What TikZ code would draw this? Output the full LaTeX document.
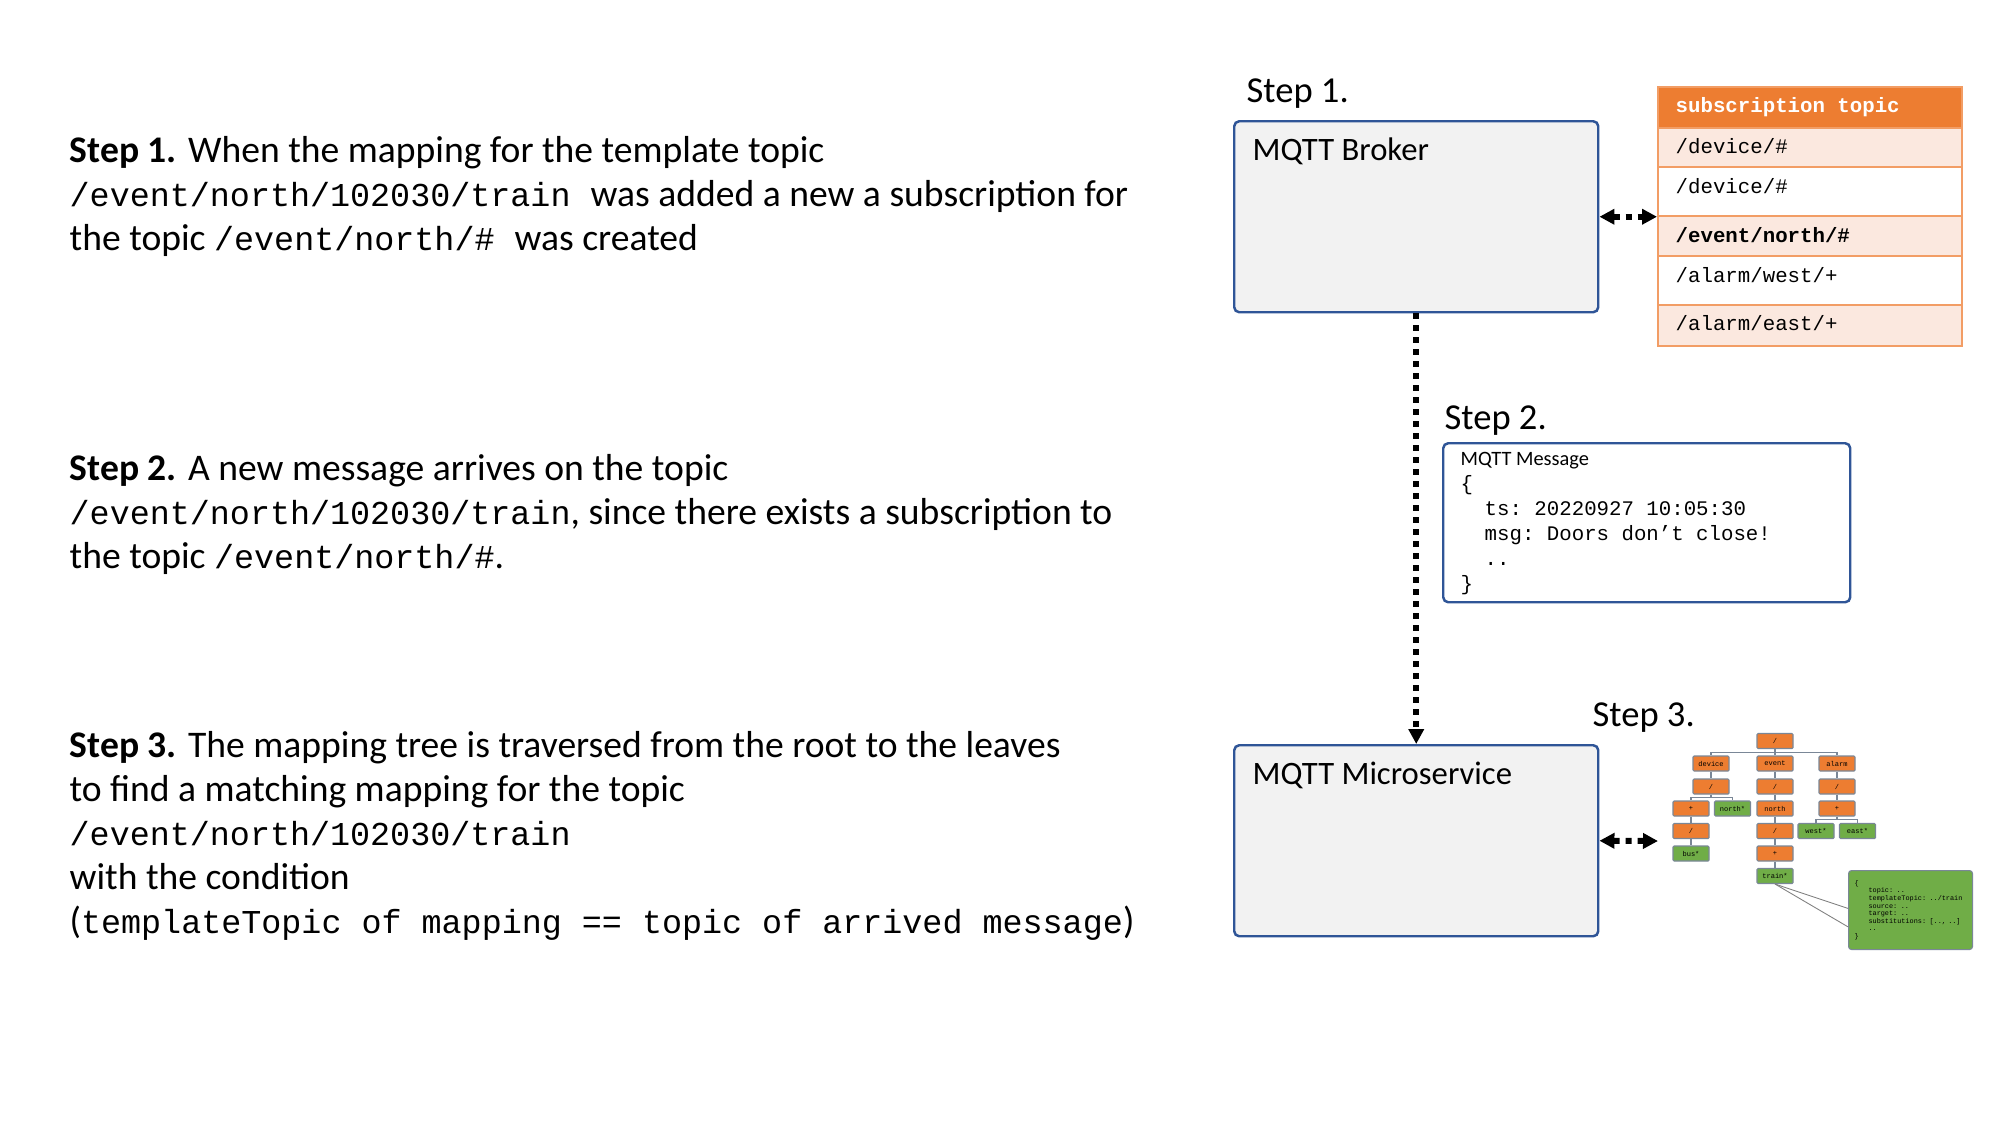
\documentclass[tikz,border=0pt]{standalone}
\usepackage{fontspec}
\setmainfont{Carlito}
\setmonofont{Liberation Mono}
\usetikzlibrary{arrows.meta,calc}

\definecolor{boxblue}{HTML}{2F5597}
\definecolor{boxgray}{HTML}{F2F2F2}
\definecolor{suborange}{HTML}{ED7D31}
\definecolor{subpale}{HTML}{FBE8DF}
\definecolor{leafgreen}{HTML}{70AD47}
\definecolor{treeline}{HTML}{7A8797}

\newcommand{\mono}[1]{{\ttfamily\fontsize{9.5}{12.5}\selectfont #1}}

\tikzset{
  bigtip/.tip={Triangle[length=0.15cm,width=0.15cm]},
  steptext/.style={anchor=base west, align=left, inner sep=0pt, font=\fontsize{10.7}{12.5}\selectfont},
  steplabel/.style={anchor=base west, inner sep=0pt, font=\fontsize{10.4}{12}\selectfont},
  mqttbox/.style={draw=boxblue, fill=boxgray, line width=0.7pt, rounded corners=0.05cm, anchor=north west, minimum width=3.64cm, minimum height=1.91cm},
  boxtitle/.style={anchor=base west, inner sep=0pt, font=\fontsize{9.3}{11}\selectfont},
  subrow/.style={draw=suborange!75, line width=0.6pt, anchor=north west, minimum width=3.04cm, inner sep=0pt},
  subtext/.style={anchor=base west, inner sep=0pt, font=\fontsize{5.9}{7}\selectfont\ttfamily},
  dotline/.style={line width=0.06cm, dash pattern=on 0.06cm off 0.06cm},
  tnode/.style={draw=treeline, fill=suborange, line width=0.3pt, rounded corners=0.01cm, minimum width=0.36cm, minimum height=0.15cm, inner sep=0pt, font=\fontsize{2}{2.4}\selectfont\ttfamily},
  tleaf/.style={tnode, fill=leafgreen},
  tedge/.style={draw=treeline, line width=0.3pt},
}

\begin{document}
\begin{tikzpicture}
\useasboundingbox (0,0) rectangle (20,-11.25);

% Explanations (anchored at the last line)
\node[steptext] (expl1) at (0.69,-2.50) {\textbf{Step 1.} When the mapping for the template topic\\
\mono{/event/north/102030/train }was added a new a subscription for\\
the topic \mono{/event/north/\# }was created};
\node[steptext] (expl2) at (0.69,-5.68) {\textbf{Step 2.} A new message arrives on the topic\\
\mono{/event/north/102030/train}, since there exists a subscription to\\
the topic \mono{/event/north/\#}.};
\node[steptext] (expl3) at (0.69,-9.33) {\textbf{Step 3.} The mapping tree is traversed from the root to the leaves\\
to find a matching mapping for the topic\\
\mono{/event/north/102030/train}\\
with the condition\\
(\mono{templateTopic of mapping == topic of arrived message})};

% Broker and subscriptions
\node[steplabel] (lbl1) at (12.46,-1.02) {Step 1.};
\node[mqttbox] (broker) at (12.33,-1.20) {};
\node[boxtitle] (brokertitle) at (12.52,-1.60) {MQTT Broker};

\node[subrow, fill=suborange, minimum height=0.41cm] (subhead) at (16.57,-0.86) {};
\node[subrow, fill=subpale, minimum height=0.39cm] (sub1) at (16.57,-1.27) {};
\node[subrow, fill=white, minimum height=0.49cm] (sub2) at (16.57,-1.66) {};
\node[subrow, fill=subpale, minimum height=0.40cm] (sub3) at (16.57,-2.15) {};
\node[subrow, fill=white, minimum height=0.49cm] (sub4) at (16.57,-2.55) {};
\node[subrow, fill=subpale, minimum height=0.41cm] (sub5) at (16.57,-3.04) {};
\node[subtext, text=white, font=\fontsize{5.9}{7}\selectfont\ttfamily\bfseries] (subheadtxt) at (16.75,-1.12) {subscription topic};
\node[subtext] (sub1txt) at (16.75,-1.53) {/device/\#};
\node[subtext] (sub2txt) at (16.75,-1.93) {/device/\#};
\node[subtext, font=\fontsize{5.9}{7}\selectfont\ttfamily\bfseries] (sub3txt) at (16.75,-2.42) {/event/north/\#};
\node[subtext] (sub4txt) at (16.75,-2.82) {/alarm/west/+};
\node[subtext] (sub5txt) at (16.75,-3.30) {/alarm/east/+};

\draw[dotline, bigtip-bigtip] (broker.east) -- (broker.east -| subhead.west);

% Message
\node[steplabel] (lbl2) at (14.44,-4.29) {Step 2.};
\node[draw=boxblue, fill=white, line width=0.7pt, rounded corners=0.05cm, anchor=north west, minimum width=4.07cm, minimum height=1.59cm] (msg) at (14.42,-4.42) {};
\node[anchor=base west, align=left, inner sep=0pt, font=\fontsize{5.9}{7.1}\selectfont\ttfamily] (msgtxt) at (14.60,-5.90)
  {{\rmfamily\fontsize{5.8}{7.1}\selectfont MQTT Message}\\
  \{\\
  \hspace*{0.24cm}ts: 20220927 10:05:30\\
  \hspace*{0.24cm}msg: Doors don’t close!\\
  \hspace*{0.24cm}..\\
  \}};

% Microservice and mapping tree
\node[mqttbox] (micro) at (12.33,-7.44) {};
\node[boxtitle] (microtitle) at (12.52,-7.84) {MQTT Microservice};
\draw[dotline, -bigtip] (broker.south) -- (micro.north);

\node[steplabel] (lbl3) at (15.92,-7.26) {Step 3.};
\coordinate (treein) at (16.58,-8.41);
\draw[dotline, bigtip-bigtip] (micro.east) -- (treein);

\node[tnode] (root) at (17.75,-7.41) {/};
\node[tnode] (dev) at (17.11,-7.635) {device};
\node[tnode] (evt) at (17.75,-7.635) {event};
\node[tnode] (alm) at (18.37,-7.635) {alarm};
\node[tnode] (devs) at (17.11,-7.865) {/};
\node[tnode] (evts) at (17.75,-7.865) {/};
\node[tnode] (alms) at (18.37,-7.865) {/};
\node[tnode] (devp) at (16.91,-8.085) {+};
\node[tleaf] (devn) at (17.325,-8.085) {north*};
\node[tnode] (evtn) at (17.75,-8.085) {north};
\node[tnode] (almp) at (18.37,-8.085) {+};
\node[tnode] (devps) at (16.91,-8.31) {/};
\node[tnode] (evtns) at (17.75,-8.31) {/};
\node[tleaf] (almw) at (18.16,-8.31) {west*};
\node[tleaf] (alme) at (18.575,-8.31) {east*};
\node[tleaf] (bus) at (16.91,-8.535) {bus*};
\node[tnode] (evtp) at (17.75,-8.535) {+};
\node[tleaf] (train) at (17.75,-8.76) {train*};

\draw[tedge] (root.south) -- ++(0,-0.03) -| (dev.north);
\draw[tedge] (root.south) -- ++(0,-0.03) -| (alm.north);
\draw[tedge] (root.south) -- (evt.north);
\draw[tedge] (dev) -- (devs);
\draw[tedge] (devs.south) -- ++(0,-0.03) -| (devp.north);
\draw[tedge] (devs.south) -- ++(0,-0.03) -| (devn.north);
\draw[tedge] (devp) -- (devps) -- (bus);
\draw[tedge] (evt) -- (evts) -- (evtn) -- (evtns) -- (evtp) -- (train);
\draw[tedge] (alm) -- (alms) -- (almp);
\draw[tedge] (almp.south) -- ++(0,-0.03) -| (almw.north);
\draw[tedge] (almp.south) -- ++(0,-0.03) -| (alme.north);

% Mapping of the matched leaf
\node[draw=treeline, fill=leafgreen, line width=0.3pt, rounded corners=0.03cm, anchor=north west, minimum width=1.24cm, minimum height=0.79cm, inner xsep=0.06cm, inner ysep=0.02cm, text width=1.12cm, align=left, font=\fontsize{1.95}{2.15}\selectfont\ttfamily] (cfg) at (18.48,-8.70)
  {\{\\
  \hspace*{0.14cm}topic: ..\\
  \hspace*{0.14cm}templateTopic: ../train\\
  \hspace*{0.14cm}source: ..\\
  \hspace*{0.14cm}target: ..\\
  \hspace*{0.14cm}substitutions: [.., ..]\\
  \hspace*{0.14cm}..\\
  \}};
\draw[gray, line width=0.25pt] (train.south) -- ($(cfg.north west)!0.48!(cfg.south west)$);
\draw[gray, line width=0.25pt] (train.south) -- ($(cfg.north west)!0.71!(cfg.south west)$);

\end{tikzpicture}
\end{document}
